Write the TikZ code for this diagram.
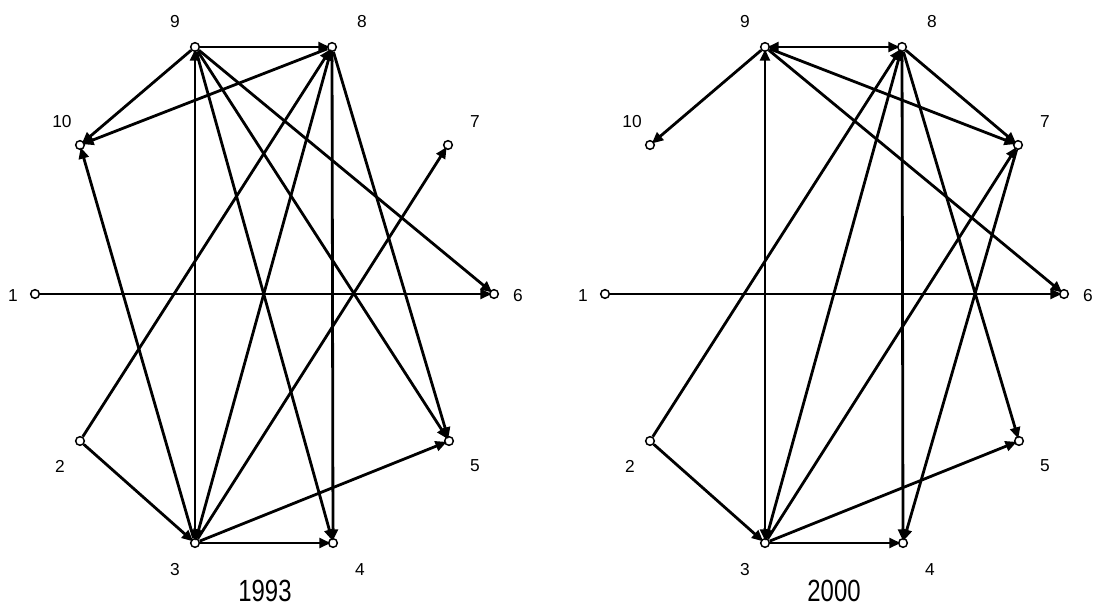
\documentclass[tikz,border=0pt]{standalone}
\usepackage{fontspec}
\setmainfont{Liberation Sans}
\usetikzlibrary{arrows.meta}
\begin{document}
\begin{tikzpicture}[x=0.75pt,y=-0.75pt,
  vtx/.style={circle,draw,line width=1.1pt,inner sep=0pt,minimum size=6.5pt},
  lbl/.style={font=\fontsize{13}{13}\selectfont,inner sep=0pt},
  yr/.style={font=\fontsize{23}{23}\selectfont,inner sep=0pt,xscale=0.78},
  tie/.style={line width=2.1pt,-{Triangle[length=8.5pt,width=7.5pt]},shorten >=-2pt},
  both/.style={line width=2.1pt,{Triangle[length=8.5pt,width=7.5pt]}-{Triangle[length=8.5pt,width=7.5pt]},shorten >=-2pt,shorten <=-2pt}]
\useasboundingbox (0,0) rectangle (1093,610);
% ---------- 1993 ----------
\node[vtx] (L1) at (35,294) {};
\node[vtx] (L2) at (80,441) {};
\node[vtx] (L3) at (195,543) {};
\node[vtx] (L4) at (333,543) {};
\node[vtx] (L5) at (449,441) {};
\node[vtx] (L6) at (494,294) {};
\node[vtx] (L7) at (448,145) {};
\node[vtx] (L8) at (332,47) {};
\node[vtx] (L9) at (195,47) {};
\node[vtx] (L10) at (80,145) {};
\node[lbl] (tL1) at (13,296) {1};
\node[lbl] (tL2) at (60,466) {2};
\node[lbl] (tL3) at (175,570) {3};
\node[lbl] (tL4) at (360,570) {4};
\node[lbl] (tL5) at (475,466) {5};
\node[lbl] (tL6) at (518,296) {6};
\node[lbl] (tL7) at (475,122) {7};
\node[lbl] (tL8) at (362,22) {8};
\node[lbl] (tL9) at (175,22) {9};
\node[lbl] (tL10) at (62,122) {10};
\node[yr] (yL) at (265,591) {1993};
\draw[tie] (L1) -- (L6);
\draw[tie] (L9) -- (L8);
\draw[tie] (L9) -- (L10);
\draw[tie] (L8) -- (L10);
\draw[tie] (L3) -- (L10);
\draw[tie] (L9) -- (L6);
\draw[tie] (L3) -- (L7);
\draw[tie] (L2) -- (L8);
\draw[tie] (L2) -- (L3);
\draw[both] (L3) -- (L9);
\draw[both] (L3) -- (L8);
\draw[tie] (L8) -- (L4);
\draw[tie] (L9) -- (L4);
\draw[tie] (L3) -- (L4);
\draw[tie] (L3) -- (L5);
\draw[tie] (L9) -- (L5);
\draw[tie] (L8) -- (L5);
% ---------- 2000 ----------
\node[vtx] (R1) at (605,294) {};
\node[vtx] (R2) at (650,441) {};
\node[vtx] (R3) at (765,543) {};
\node[vtx] (R4) at (903,543) {};
\node[vtx] (R5) at (1019,441) {};
\node[vtx] (R6) at (1064,294) {};
\node[vtx] (R7) at (1018,145) {};
\node[vtx] (R8) at (902,47) {};
\node[vtx] (R9) at (765,47) {};
\node[vtx] (R10) at (650,145) {};
\node[lbl] (tR1) at (583,296) {1};
\node[lbl] (tR2) at (630,466) {2};
\node[lbl] (tR3) at (745,570) {3};
\node[lbl] (tR4) at (930,570) {4};
\node[lbl] (tR5) at (1045,466) {5};
\node[lbl] (tR6) at (1088,296) {6};
\node[lbl] (tR7) at (1045,122) {7};
\node[lbl] (tR8) at (932,22) {8};
\node[lbl] (tR9) at (745,22) {9};
\node[lbl] (tR10) at (632,122) {10};
\node[yr] (yR) at (834,591) {2000};
\draw[tie] (R1) -- (R6);
\draw[both] (R9) -- (R8);
\draw[tie] (R9) -- (R10);
\draw[tie] (R9) -- (R6);
\draw[tie] (R9) -- (R7);
\draw[tie] (R8) -- (R7);
\draw[tie] (R2) -- (R8);
\draw[tie] (R2) -- (R3);
\draw[both] (R3) -- (R9);
\draw[both] (R3) -- (R8);
\draw[tie] (R3) -- (R7);
\draw[tie] (R8) -- (R4);
\draw[tie] (R8) -- (R5);
\draw[tie] (R7) -- (R4);
\draw[tie] (R3) -- (R5);
\draw[tie] (R3) -- (R4);
\end{tikzpicture}
\end{document}
